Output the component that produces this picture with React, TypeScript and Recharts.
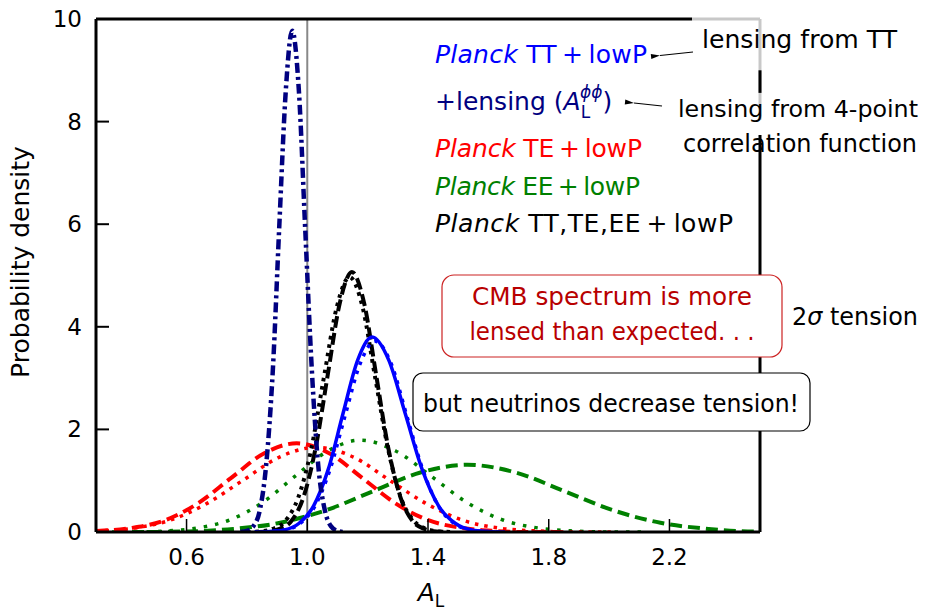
import React from 'react'
import { LineChart, Line, XAxis, YAxis, ReferenceLine } from 'recharts'

// A_L posterior curves
const ttLowPX = [0.827, 0.876, 0.924, 0.973, 1.021, 1.07, 1.118, 1.167, 1.215, 1.27, 1.325, 1.38, 1.435, 1.49, 1.545, 1.6, 1.655]
const ttLowPY = [0, 0.01, 0.04, 0.17, 0.51, 1.23, 2.3, 3.35, 3.8, 3.35, 2.3, 1.23, 0.51, 0.17, 0.04, 0.01, 0]

const ttLowPAltX = [0.825, 0.875, 0.925, 0.975, 1.025, 1.075, 1.125, 1.175, 1.225, 1.278, 1.33, 1.383, 1.435, 1.488, 1.54, 1.593, 1.645]
const ttLowPAltY = [0, 0.01, 0.04, 0.16, 0.5, 1.21, 2.26, 3.28, 3.72, 3.28, 2.26, 1.21, 0.5, 0.16, 0.04, 0.01, 0]

const lensingX = [0.778, 0.8, 0.821, 0.843, 0.864, 0.886, 0.907, 0.929, 0.95, 0.972, 0.993, 1.015, 1.036, 1.058, 1.079, 1.101, 1.122]
const lensingY = [0, 0.02, 0.11, 0.43, 1.32, 3.17, 5.93, 8.62, 9.77, 8.62, 5.93, 3.17, 1.32, 0.43, 0.11, 0.02, 0]

const allX = [0.828, 0.868, 0.908, 0.948, 0.988, 1.028, 1.068, 1.108, 1.148, 1.188, 1.228, 1.268, 1.308, 1.348, 1.388, 1.428, 1.468]
const allY = [0, 0.01, 0.06, 0.22, 0.69, 1.65, 3.07, 4.47, 5.07, 4.47, 3.07, 1.65, 0.69, 0.22, 0.06, 0.01, 0]

const allAltX = [0.8, 0.843, 0.885, 0.928, 0.97, 1.013, 1.055, 1.098, 1.14, 1.183, 1.225, 1.268, 1.31, 1.353, 1.395, 1.438, 1.48]
const allAltY = [0, 0.01, 0.06, 0.22, 0.67, 1.61, 3.01, 4.39, 4.97, 4.39, 3.01, 1.61, 0.67, 0.22, 0.06, 0.01, 0]

const teX = [0.3, 0.42, 0.529, 0.638, 0.747, 0.856, 0.965, 1.074, 1.183, 1.292, 1.401, 1.51, 1.619, 1.728, 1.837]
const teY = [0.02, 0.08, 0.23, 0.56, 1.05, 1.53, 1.73, 1.53, 1.05, 0.56, 0.23, 0.08, 0.02, 0, 0]

const teAltX = [0.3, 0.418, 0.54, 0.663, 0.785, 0.908, 1.03, 1.153, 1.275, 1.398, 1.52, 1.643, 1.765, 1.888, 2.01]
const teAltY = [0.02, 0.07, 0.22, 0.54, 1.0, 1.46, 1.65, 1.46, 1.0, 0.54, 0.22, 0.07, 0.02, 0, 0]

const eeX = [0.3, 0.445, 0.6, 0.755, 0.91, 1.065, 1.22, 1.375, 1.53, 1.69, 1.85, 2.01, 2.17, 2.33, 2.49, 2.5]
const eeY = [0, 0, 0.01, 0.06, 0.18, 0.43, 0.8, 1.16, 1.31, 1.16, 0.8, 0.43, 0.18, 0.06, 0.01, 0.01]

const eeAltX = [0.315, 0.423, 0.53, 0.638, 0.745, 0.853, 0.96, 1.068, 1.175, 1.293, 1.41, 1.528, 1.645, 1.763, 1.88, 1.998, 2.115]
const eeAltY = [0, 0, 0.02, 0.08, 0.24, 0.58, 1.09, 1.58, 1.79, 1.58, 1.09, 0.58, 0.24, 0.08, 0.02, 0, 0]

const xTicks = [0.6, 1.0, 1.4, 1.8, 2.2]
const yTicks = [0, 2, 4, 6, 8, 10]
const yTicksRight = [2, 4, 6]

const pts = (xs: number[], ys: number[]) => xs.map((x, i) => ({ x, y: ys[i] }))

const FONT = 'DejaVu Sans'

const BottomTick = ({ x, y, payload }: any) => (
  <g>
    <line x1={x} x2={x} y1={y} y2={y - 13} stroke="#000" strokeWidth={1.5} />
    <text x={x} y={y + 33} textAnchor="middle" fontSize={23} fontFamily={FONT} fill="#000">
      {Number(payload.value).toFixed(1)}
    </text>
  </g>
)

const TopTick = ({ x, y }: any) => (
  <line x1={x} x2={x} y1={y} y2={y + 13} stroke="#000" strokeWidth={1.5} />
)

const LeftTick = ({ x, y, payload }: any) => (
  <g>
    <line x1={x} x2={x + 13} y1={y} y2={y} stroke="#000" strokeWidth={2} />
    <text x={x - 14} y={y + 8} textAnchor="end" fontSize={23} fontFamily={FONT} fill="#000">
      {payload.value}
    </text>
  </g>
)

const RightTick = ({ x, y }: any) => (
  <line x1={x} x2={x - 13} y1={y} y2={y} stroke="#000" strokeWidth={2} />
)

export default function App() {
  return (
    <div style={{ position: 'absolute', left: 0, top: 0, width: 926, height: 611, background: '#fff' }}>
      <LineChart width={926} height={611} margin={{ top: 19, right: 166, left: 0, bottom: 0 }}>
        <XAxis
          dataKey="x"
          type="number"
          domain={[0.3, 2.5]}
          ticks={xTicks}
          height={79}
          tickSize={0}
          tickMargin={0}
          tickLine={false}
          tick={<BottomTick />}
          axisLine={{ stroke: '#000', strokeWidth: 3 }}
          allowDataOverflow
        />
        <XAxis
          xAxisId="top"
          orientation="top"
          dataKey="x"
          type="number"
          domain={[0.3, 2.5]}
          ticks={xTicks}
          height={0}
          tickSize={0}
          tickMargin={0}
          tickLine={false}
          tick={<TopTick />}
          axisLine={false}
        />
        <YAxis
          type="number"
          domain={[0, 10]}
          ticks={yTicks}
          width={96}
          tickSize={0}
          tickMargin={0}
          tickLine={false}
          tick={<LeftTick />}
          axisLine={{ stroke: '#000', strokeWidth: 3 }}
          allowDataOverflow
        />
        <YAxis
          yAxisId="right"
          orientation="right"
          type="number"
          domain={[0, 10]}
          ticks={yTicksRight}
          width={0}
          tickSize={0}
          tickMargin={0}
          tickLine={false}
          tick={<RightTick />}
          axisLine={false}
        />

        <ReferenceLine x={1} stroke="#888" strokeWidth={2} />

        <ReferenceLine segment={[{ x: 0.3, y: 10 }, { x: 2.275, y: 10 }]} stroke="#000" strokeWidth={3} />
        <ReferenceLine segment={[{ x: 2.275, y: 10 }, { x: 2.5, y: 10 }]} stroke="#c8c8c8" strokeWidth={3} />
        <ReferenceLine segment={[{ x: 2.5, y: 10 }, { x: 2.5, y: 8.03 }]} stroke="#c8c8c8" strokeWidth={3} />
        <ReferenceLine segment={[{ x: 2.5, y: 9.0 }, { x: 2.5, y: 8.56 }]} stroke="#000" strokeWidth={3} />
        <ReferenceLine segment={[{ x: 2.5, y: 7.74 }, { x: 2.5, y: 0 }]} stroke="#000" strokeWidth={3} />

        <Line data={pts(eeX, eeY)} dataKey="y" type="monotone" stroke="#008000" strokeWidth={4} strokeDasharray="12 6" dot={false} isAnimationActive={false} />
        <Line data={pts(eeAltX, eeAltY)} dataKey="y" type="monotone" stroke="#008000" strokeWidth={3.5} strokeDasharray="3.5 8" dot={false} isAnimationActive={false} />
        <Line data={pts(teX, teY)} dataKey="y" type="monotone" stroke="#ff0000" strokeWidth={4} strokeDasharray="12 6" dot={false} isAnimationActive={false} />
        <Line data={pts(teAltX, teAltY)} dataKey="y" type="monotone" stroke="#ff0000" strokeWidth={3.5} strokeDasharray="3.5 6" dot={false} isAnimationActive={false} />
        <Line data={pts(allX, allY)} dataKey="y" type="monotone" stroke="#000" strokeWidth={4} strokeDasharray="12 5" dot={false} isAnimationActive={false} />
        <Line data={pts(allAltX, allAltY)} dataKey="y" type="monotone" stroke="#000" strokeWidth={4} strokeDasharray="3.5 5" dot={false} isAnimationActive={false} />
        <Line data={pts(ttLowPAltX, ttLowPAltY)} dataKey="y" type="monotone" stroke="#0000ff" strokeWidth={3.5} strokeDasharray="3.5 6" dot={false} isAnimationActive={false} />
        <Line data={pts(ttLowPX, ttLowPY)} dataKey="y" type="monotone" stroke="#0000ff" strokeWidth={3.5} dot={false} isAnimationActive={false} />
        <Line data={pts(lensingX, lensingY)} dataKey="y" type="monotone" stroke="#000080" strokeWidth={4.5} strokeDasharray="10 4 3 4" dot={false} isAnimationActive={false} />
      </LineChart>

      <svg
        width={926}
        height={611}
        style={{ position: 'absolute', left: 0, top: 0, pointerEvents: 'none' }}
        fontFamily={FONT}
        fontSize={25}
      >
        <defs>
          <marker id="head" markerWidth="10" markerHeight="8" refX="0" refY="4" orient="auto-start-reverse" markerUnits="userSpaceOnUse">
            <path d="M0,4 L9,1.5 L9,6.5 Z" fill="#000" />
          </marker>
        </defs>

        {/* legend */}
        <text x={435} y={63} fill="#0000ff" textLength={212} lengthAdjust="spacing">
          <tspan fontStyle="italic">Planck</tspan> TT{'\u2009'}+{'\u2009'}lowP
        </text>
        <text x={435} y={110} fill="#000080">
          +lensing (<tspan fontStyle="italic">A</tspan>
          <tspan fontSize={17} dy={8}>L</tspan>
          <tspan fontSize={17} fontStyle="italic" dx={-10} dy={-20}>ϕϕ</tspan>
          <tspan dy={12}>)</tspan>
        </text>
        <text x={435} y={157} fill="#ff0000" textLength={207} lengthAdjust="spacing">
          <tspan fontStyle="italic">Planck</tspan> TE{'\u2009'}+{'\u2009'}lowP
        </text>
        <text x={435} y={195} fill="#008000" textLength={205} lengthAdjust="spacing">
          <tspan fontStyle="italic">Planck</tspan> EE{'\u2009'}+{'\u2009'}lowP
        </text>
        <text x={435} y={232} fill="#000" textLength={298} lengthAdjust="spacing">
          <tspan fontStyle="italic">Planck</tspan> TT,TE,EE{'\u2009'}+{'\u2009'}lowP
        </text>

        {/* side notes */}
        <text x={702} y={48} fill="#000" fontSize={24.5} textLength={195} lengthAdjust="spacingAndGlyphs">lensing from TT</text>
        <line x1={693} y1={52} x2={660} y2={55.5} stroke="#000" strokeWidth={1.2} markerEnd="url(#head)" />
        <text x={678} y={117} fill="#000" fontSize={23.5} textLength={240} lengthAdjust="spacingAndGlyphs">lensing from 4-point</text>
        <text x={683} y={152} fill="#000" fontSize={24.5} textLength={234} lengthAdjust="spacingAndGlyphs">correlation function</text>
        <line x1={662} y1={106} x2={634} y2={103} stroke="#000" strokeWidth={1.2} markerEnd="url(#head)" />

        <rect x={442} y={275} width={340} height={82} rx={12} fill="#fff" stroke="#cc2222" strokeWidth={1.2} />
        <text x={612} y={305} textAnchor="middle" fill="#b80000" textLength={280} lengthAdjust="spacingAndGlyphs">CMB spectrum is more</text>
        <text x={612} y={340} textAnchor="middle" fill="#b80000" textLength={285} lengthAdjust="spacingAndGlyphs">lensed than expected. . .</text>
        <text x={792} y={325} fill="#000" fontSize={24.5} textLength={126} lengthAdjust="spacingAndGlyphs">
          2<tspan fontStyle="italic">σ</tspan> tension
        </text>

        <rect x={413} y={373} width={397} height={58} rx={10} fill="#fff" stroke="#000" strokeWidth={1.2} />
        <text x={611} y={412} textAnchor="middle" fill="#000" textLength={376} lengthAdjust="spacingAndGlyphs">but neutrinos decrease tension!</text>

        {/* axis titles */}
        <text transform="rotate(-90)" x={-262} y={29} textAnchor="middle" fill="#000">
          Probability density
        </text>
        <text x={431} y={601} textAnchor="middle" fill="#000">
          <tspan fontStyle="italic">A</tspan>
          <tspan fontSize={17} dy={6}>L</tspan>
        </text>
      </svg>
    </div>
  )
}
